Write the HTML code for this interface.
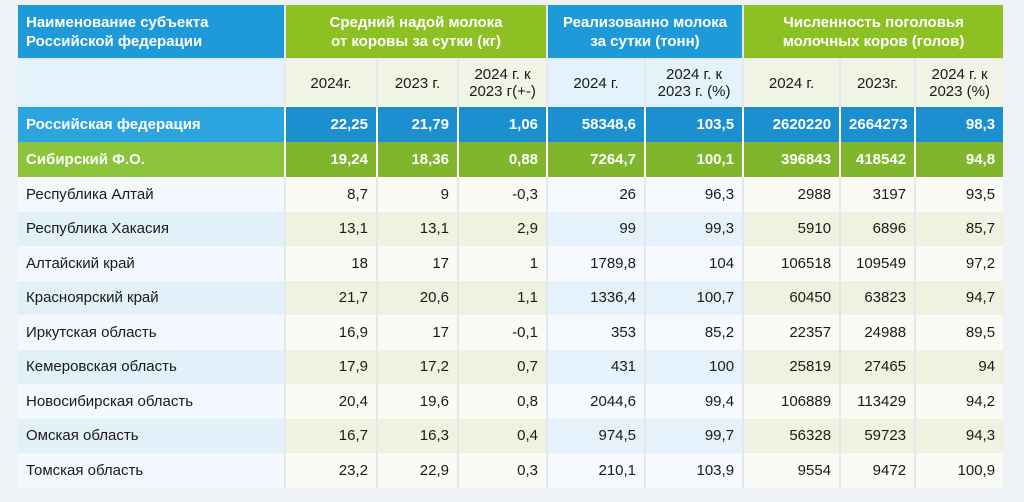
<!DOCTYPE html>
<html><head><meta charset="utf-8"><style>
html,body{margin:0;padding:0;background:#eef1f6;width:1024px;height:502px;overflow:hidden;font-family:"Liberation Sans","DejaVu Sans",sans-serif;}
table{position:absolute;left:18px;top:5px;border-collapse:collapse;table-layout:fixed;width:985px;font-size:15px;color:#1a1a1a;}
td{padding:0 8px;border-right:2px solid #e4e7eb;text-align:right;white-space:nowrap;overflow:hidden}
td:last-child{border-right:none}
td.n{text-align:left;padding-left:8px}
.h1 td{height:53px;color:#fff;font-weight:bold;text-align:center;line-height:19px;border-bottom:1px solid #e4e7eb}
.h1 td.n{text-align:left}
.hb{background:#1f9ad8}.hg{background:#8dc022}
.h2 td{height:48px;text-align:center;line-height:17px;font-size:15px}
.h2 .lb{background:#e4f2fb}.h2 .lg{background:#f1f3e5}
.rf td{height:35px;background:#1c8fd0;color:#fff;font-weight:bold;border-right-color:#fff}
.rf td.n{background:#2ba4e0}
.sf td{height:35px;background:#80b62c;color:#fff;font-weight:bold;border-right-color:#fff}
.sf td.n{background:#8cc43c}
.d td{height:34.5px}
.d td.n{background:#f2f8fd}
.d td.g{background:#fafbf5}.d td.b{background:#f6fafe}
.d:nth-child(even) td.n{background:#e2f0fa}
.d:nth-child(even) td.g{background:#eef3e1}.d:nth-child(even) td.b{background:#e6f2fb}
</style></head><body>
<table>
<colgroup><col style="width:267px"><col style="width:92px"><col style="width:81px"><col style="width:89px"><col style="width:98px"><col style="width:98px"><col style="width:97px"><col style="width:75px"><col style="width:88px"></colgroup>
<tr class="h1">
<td class="n hb">Наименование субъекта<br>Российской федерации</td>
<td class="hg" colspan="3">Средний надой молока<br>от коровы за сутки (кг)</td>
<td class="hb" colspan="2">Реализованно молока<br>за сутки (тонн)</td>
<td class="hg" colspan="3">Численность поголовья<br>молочных коров (голов)</td>
</tr>
<tr class="h2">
<td class="lb"></td>
<td class="lg">2024г.</td>
<td class="lg">2023 г.</td>
<td class="lg">2024 г. к<br>2023 г(+-)</td>
<td class="lb">2024 г.</td>
<td class="lb">2024 г. к<br>2023 г. (%)</td>
<td class="lg">2024 г.</td>
<td class="lg">2023г.</td>
<td class="lg">2024 г. к<br>2023 (%)</td>
</tr>
<tr class="rf"><td class="n">Российская федерация</td><td>22,25</td><td>21,79</td><td>1,06</td><td>58348,6</td><td>103,5</td><td>2620220</td><td>2664273</td><td>98,3</td></tr>
<tr class="sf"><td class="n">Сибирский Ф.О.</td><td>19,24</td><td>18,36</td><td>0,88</td><td>7264,7</td><td>100,1</td><td>396843</td><td>418542</td><td>94,8</td></tr>
<tbody>
<tr class="d"><td class="n">Республика Алтай</td><td class="g">8,7</td><td class="g">9</td><td class="g">-0,3</td><td class="b">26</td><td class="b">96,3</td><td class="g">2988</td><td class="g">3197</td><td class="g">93,5</td></tr>
<tr class="d"><td class="n">Республика Хакасия</td><td class="g">13,1</td><td class="g">13,1</td><td class="g">2,9</td><td class="b">99</td><td class="b">99,3</td><td class="g">5910</td><td class="g">6896</td><td class="g">85,7</td></tr>
<tr class="d"><td class="n">Алтайский край</td><td class="g">18</td><td class="g">17</td><td class="g">1</td><td class="b">1789,8</td><td class="b">104</td><td class="g">106518</td><td class="g">109549</td><td class="g">97,2</td></tr>
<tr class="d"><td class="n">Красноярский край</td><td class="g">21,7</td><td class="g">20,6</td><td class="g">1,1</td><td class="b">1336,4</td><td class="b">100,7</td><td class="g">60450</td><td class="g">63823</td><td class="g">94,7</td></tr>
<tr class="d"><td class="n">Иркутская область</td><td class="g">16,9</td><td class="g">17</td><td class="g">-0,1</td><td class="b">353</td><td class="b">85,2</td><td class="g">22357</td><td class="g">24988</td><td class="g">89,5</td></tr>
<tr class="d"><td class="n">Кемеровская область</td><td class="g">17,9</td><td class="g">17,2</td><td class="g">0,7</td><td class="b">431</td><td class="b">100</td><td class="g">25819</td><td class="g">27465</td><td class="g">94</td></tr>
<tr class="d"><td class="n">Новосибирская область</td><td class="g">20,4</td><td class="g">19,6</td><td class="g">0,8</td><td class="b">2044,6</td><td class="b">99,4</td><td class="g">106889</td><td class="g">113429</td><td class="g">94,2</td></tr>
<tr class="d"><td class="n">Омская область</td><td class="g">16,7</td><td class="g">16,3</td><td class="g">0,4</td><td class="b">974,5</td><td class="b">99,7</td><td class="g">56328</td><td class="g">59723</td><td class="g">94,3</td></tr>
<tr class="d"><td class="n">Томская область</td><td class="g">23,2</td><td class="g">22,9</td><td class="g">0,3</td><td class="b">210,1</td><td class="b">103,9</td><td class="g">9554</td><td class="g">9472</td><td class="g">100,9</td></tr>
</tbody>
</table>
</body></html>
